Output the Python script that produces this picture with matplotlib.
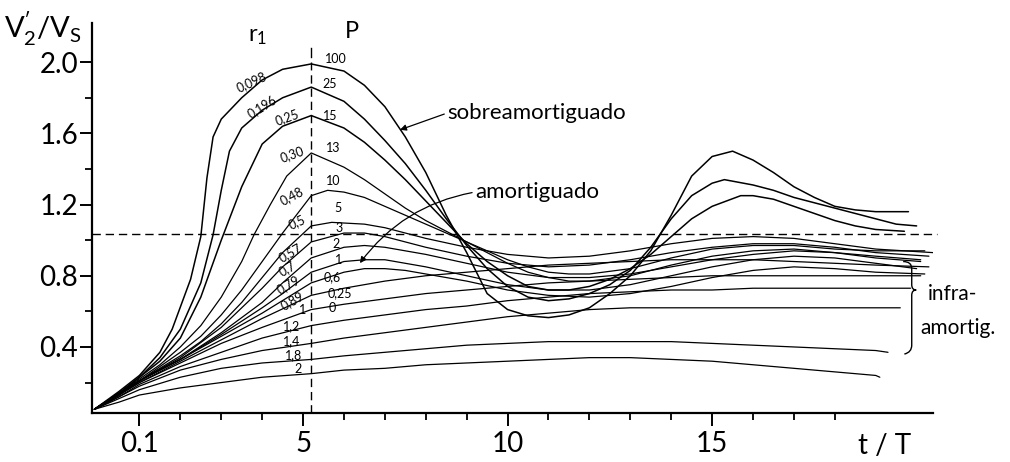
import matplotlib
matplotlib.use("Agg")
import matplotlib.pyplot as plt
from matplotlib.path import Path
from matplotlib.patches import PathPatch

plt.rcParams['font.family'] = ['Lato', 'DejaVu Sans']

# curves: t/T and V2'/Vs, top (P=100) to bottom (r1=2)
c1_t = [-0.1, 0.5, 1, 1.5, 1.8, 2.25, 2.5, 2.65, 2.8, 3, 3.5, 4, 4.5, 5.2, 6, 6.5, 7, 7.5, 8, 8.5, 9, 9.5, 10,
        10.5, 11, 11.5, 12, 12.5, 13, 13.5, 14, 14.5, 15, 15.5, 16, 16.5, 17, 17.5, 18, 18.5, 19, 19.8]
c1_v = [0.05, 0.15, 0.24, 0.37, 0.50, 0.78, 1.02, 1.35, 1.58, 1.68, 1.80, 1.90, 1.96, 1.99, 1.95, 1.87, 1.75, 1.58,
        1.38, 1.14, 0.93, 0.70, 0.61, 0.575, 0.565, 0.58, 0.62, 0.70, 0.80, 0.94, 1.14, 1.36, 1.47, 1.50, 1.45,
        1.38, 1.30, 1.24, 1.19, 1.17, 1.16, 1.16]

c2_t = [-0.1, 0.5, 1, 1.5, 2, 2.5, 2.8, 3, 3.2, 3.5, 4, 4.5, 5.2, 6, 6.5, 7, 7.5, 8, 8.5, 9, 9.5, 10, 10.5, 11,
        11.5, 12, 12.5, 13, 13.5, 14, 14.5, 15, 15.3, 16, 16.5, 17, 17.5, 18, 18.5, 19, 19.5, 20]
c2_v = [0.05, 0.14, 0.23, 0.34, 0.50, 0.76, 1.03, 1.28, 1.50, 1.63, 1.73, 1.80, 1.86, 1.78, 1.68, 1.56, 1.43, 1.28,
        1.12, 0.97, 0.84, 0.74, 0.68, 0.66, 0.67, 0.70, 0.75, 0.83, 0.96, 1.12, 1.25, 1.32, 1.34, 1.31, 1.28, 1.24,
        1.21, 1.18, 1.15, 1.12, 1.09, 1.08]

c3_t = [-0.1, 0.5, 1, 1.5, 2, 2.5, 3, 3.5, 4, 4.5, 5.2, 6, 6.5, 7, 7.5, 8, 8.5, 9, 9.5, 10, 10.5, 11, 11.5, 12,
        12.5, 13, 13.5, 14, 14.5, 15, 15.7, 16, 16.5, 17, 17.5, 18, 18.5, 19, 19.7]
c3_v = [0.05, 0.14, 0.23, 0.32, 0.45, 0.68, 1.00, 1.30, 1.54, 1.64, 1.70, 1.63, 1.55, 1.45, 1.34, 1.22, 1.10, 0.98,
        0.88, 0.80, 0.74, 0.72, 0.72, 0.74, 0.78, 0.84, 0.92, 1.02, 1.12, 1.19, 1.25, 1.25, 1.23, 1.19, 1.15, 1.11,
        1.08, 1.06, 1.05]

c4_t = [-0.1, 0.5, 1, 1.5, 2, 2.5, 3, 3.5, 3.8, 4.2, 4.6, 5.2, 6, 6.5, 7, 7.5, 8, 8.5, 9, 9.5, 10, 10.5, 11, 11.5,
        12, 13, 14, 15, 16, 17, 18, 19, 20.1]
c4_v = [0.05, 0.14, 0.22, 0.30, 0.40, 0.52, 0.68, 0.88, 1.03, 1.20, 1.36, 1.49, 1.41, 1.34, 1.26, 1.18, 1.11, 1.05,
        0.99, 0.93, 0.87, 0.82, 0.79, 0.77, 0.77, 0.80, 0.86, 0.91, 0.94, 0.95, 0.93, 0.91, 0.89]

c5_t = [-0.1, 0.5, 1, 1.5, 2, 2.5, 3, 3.5, 4, 4.5, 5.2, 5.6, 6, 6.5, 7, 7.5, 8, 8.5, 9, 9.5, 10, 10.5, 11, 11.5,
        12, 13, 14, 15, 16, 17, 18, 19, 20.2]
c5_v = [0.05, 0.14, 0.21, 0.29, 0.37, 0.46, 0.58, 0.72, 0.88, 1.04, 1.25, 1.28, 1.27, 1.24, 1.19, 1.14, 1.09, 1.04,
        0.99, 0.94, 0.89, 0.85, 0.82, 0.81, 0.81, 0.84, 0.90, 0.95, 0.97, 0.97, 0.95, 0.94, 0.94]

c6_t = [-0.1, 0.5, 1, 1.5, 2, 2.5, 3, 3.5, 4, 4.5, 5.2, 5.7, 6.5, 7, 7.5, 8, 9, 10, 11, 12, 13, 14, 15, 16, 17,
        18, 19, 20.4]
c6_v = [0.05, 0.14, 0.21, 0.28, 0.35, 0.43, 0.53, 0.65, 0.79, 0.93, 1.08, 1.10, 1.09, 1.07, 1.04, 1.01, 0.96, 0.92,
        0.90, 0.91, 0.94, 0.98, 1.01, 1.02, 1.01, 0.98, 0.95, 0.93]

c7_t = [-0.1, 0.5, 1, 2, 3, 3.5, 4, 4.5, 5.2, 6, 6.5, 7, 7.5, 8, 9, 10, 11, 12, 13, 14, 15, 16, 17, 18, 19, 20.3]
c7_v = [0.05, 0.14, 0.21, 0.34, 0.51, 0.62, 0.73, 0.85, 0.99, 1.04, 1.04, 1.02, 0.99, 0.96, 0.91, 0.87, 0.85, 0.86,
        0.89, 0.93, 0.96, 0.98, 0.98, 0.96, 0.93, 0.91]

c8_t = [-0.1, 0.5, 1, 2, 3, 4, 4.5, 5.2, 6, 6.5, 7, 7.5, 8, 9, 10, 11, 12, 13, 14, 15, 16, 17, 18, 19, 20.1]
c8_v = [0.05, 0.14, 0.21, 0.33, 0.48, 0.65, 0.76, 0.90, 0.96, 0.97, 0.96, 0.94, 0.92, 0.87, 0.82, 0.79, 0.79, 0.81,
        0.85, 0.89, 0.92, 0.94, 0.93, 0.90, 0.88]

c9_t = [-0.1, 0.5, 1, 2, 3, 4, 4.5, 5.2, 6, 6.5, 7, 7.5, 8, 9, 10, 11, 12, 13, 14, 15, 16, 17, 18, 19, 20.0]
c9_v = [0.05, 0.13, 0.21, 0.33, 0.47, 0.62, 0.70, 0.82, 0.88, 0.89, 0.89, 0.87, 0.85, 0.80, 0.75, 0.72, 0.72, 0.75,
        0.80, 0.85, 0.89, 0.91, 0.90, 0.87, 0.84]

c10_t = [-0.1, 0.5, 1, 2, 3, 4, 5.2, 6, 6.5, 7, 7.5, 8, 9, 10, 11, 12, 13, 14, 15, 16, 17, 18, 19, 20.2]
c10_v = [0.05, 0.13, 0.21, 0.33, 0.46, 0.59, 0.76, 0.82, 0.84, 0.84, 0.83, 0.81, 0.77, 0.72, 0.69, 0.68, 0.70, 0.74,
         0.79, 0.83, 0.85, 0.84, 0.82, 0.81]

c11_t = [-0.1, 0.5, 1, 2, 3, 4, 5.2, 6, 7, 8, 9, 10, 11, 12, 13, 14, 15, 16, 17, 18, 19, 20.3]
c11_v = [0.05, 0.13, 0.20, 0.32, 0.44, 0.56, 0.69, 0.73, 0.77, 0.80, 0.82, 0.84, 0.86, 0.87, 0.88, 0.89, 0.89, 0.89,
         0.88, 0.87, 0.86, 0.85]

c12_t = [-0.1, 0.5, 1, 2, 3, 4, 5.2, 6, 7, 8, 9, 10, 11, 12, 13, 14, 15, 16, 17, 18, 19, 20.1]
c12_v = [0.05, 0.13, 0.20, 0.31, 0.42, 0.51, 0.61, 0.64, 0.67, 0.70, 0.72, 0.74, 0.76, 0.77, 0.78, 0.79, 0.80, 0.80,
         0.80, 0.80, 0.80, 0.80]

c13_t = [-0.1, 0.5, 1, 2, 3, 4, 5.2, 6, 7, 8, 9, 10, 11, 12, 13, 14, 15, 16, 17, 18, 19, 19.85]
c13_v = [0.05, 0.12, 0.19, 0.29, 0.37, 0.45, 0.52, 0.55, 0.58, 0.61, 0.63, 0.66, 0.68, 0.70, 0.71, 0.72, 0.72, 0.73,
         0.73, 0.73, 0.73, 0.73]

c14_t = [-0.1, 0.5, 1, 2, 3, 4, 5.2, 6, 7, 8, 9, 10, 11, 12, 13, 14, 15, 16, 17, 18, 19, 19.6]
c14_v = [0.05, 0.12, 0.18, 0.27, 0.33, 0.38, 0.42, 0.45, 0.48, 0.51, 0.54, 0.57, 0.59, 0.61, 0.62, 0.62, 0.62, 0.62,
         0.62, 0.62, 0.62, 0.62]

c15_t = [-0.1, 0.5, 1, 2, 3, 4, 5.2, 6, 7, 8, 9, 10, 11, 12, 13, 14, 15, 16, 17, 18, 19, 19.3]
c15_v = [0.05, 0.11, 0.16, 0.23, 0.28, 0.31, 0.33, 0.35, 0.37, 0.39, 0.41, 0.42, 0.43, 0.43, 0.43, 0.43, 0.42, 0.41,
         0.40, 0.39, 0.38, 0.37]

c16_t = [-0.1, 0.5, 1, 2, 3, 4, 5.2, 6, 7, 8, 9, 10, 11, 12, 13, 14, 15, 16, 17, 18, 19, 19.1]
c16_v = [0.05, 0.09, 0.13, 0.17, 0.20, 0.23, 0.25, 0.27, 0.28, 0.30, 0.31, 0.32, 0.33, 0.34, 0.34, 0.33, 0.32, 0.30,
         0.28, 0.26, 0.24, 0.23]

# labels on the left (r1) and right (P) of the t/T = 5.2 line
r1_labels = ["0,098", "0,196", "0,25", "0,30", "0,48", "0,5", "0,57", "0,7", "0,79", "0,89", "1", "1,2", "1,4", "1,8", "2"]
r1_t = [3.75, 4.0, 4.61, 4.73, 4.73, 4.85, 4.68, 4.61, 4.63, 4.73, 4.98, 4.73, 4.73, 4.76, 4.88]
r1_v = [1.89, 1.75, 1.69, 1.48, 1.25, 1.10, 0.93, 0.84, 0.75, 0.66, 0.605, 0.515, 0.435, 0.355, 0.275]
r1_rot = [25, 32, 20, 20, 28, 25, 30, 30, 30, 30, 0, 0, 0, 0, 0]

p_labels = ["100", "25", "15", "13", "10", "5", "3", "2", "1", "0,6", "0,25", "0"]
p_t = [5.79, 5.66, 5.66, 5.73, 5.73, 5.86, 5.88, 5.81, 5.86, 5.71, 5.90, 5.71]
p_v = [2.02, 1.88, 1.70, 1.52, 1.33, 1.18, 1.07, 0.98, 0.89, 0.79, 0.70, 0.62]

y_ticks = [0.4, 0.8, 1.2, 1.6, 2.0]
y_minor = [0.2, 0.6, 1.0, 1.4, 1.8]
x_ticks = [1, 5, 10, 15]
x_tick_labels = ["0.1", "5", "10", "15"]
x_minor = [2, 3, 4, 6, 7, 8, 9, 11, 12, 13, 14, 16, 17, 18]

t_mark = 5.2
v_ref = 1.034

fig = plt.figure(figsize=(10.1, 4.62), dpi=100)
ax = fig.add_axes([92 / 1010, 49 / 462, 841 / 1010, 390 / 462])

curves = [(c1_t, c1_v), (c2_t, c2_v), (c3_t, c3_v), (c4_t, c4_v), (c5_t, c5_v), (c6_t, c6_v),
          (c7_t, c7_v), (c8_t, c8_v), (c9_t, c9_v), (c10_t, c10_v), (c11_t, c11_v), (c12_t, c12_v),
          (c13_t, c13_v), (c14_t, c14_v), (c15_t, c15_v), (c16_t, c16_v)]
for i, (t, v) in enumerate(curves):
    ax.plot(t, v, color='black', lw=1.1 if i < 3 else 0.9, solid_capstyle='round')

# reference lines
ax.plot([t_mark, t_mark], [2.03, 2.08], color='black', lw=1.0)
ax.plot([t_mark, t_mark], [0.029, 2.0], color='black', lw=1.0, ls=(0, (6, 3.5)))
ax.plot([-0.16, 20.5], [v_ref, v_ref], color='black', lw=1.0, ls=(0, (6, 3.5)), clip_on=False)

for s, t, v, r in zip(r1_labels, r1_t, r1_v, r1_rot):
    ax.text(t, v, s, fontsize=9, rotation=r, ha='center', va='center')
for s, t, v in zip(p_labels, p_t, p_v):
    ax.text(t, v, s, fontsize=9, ha='center', va='center')

ax.text(3.9, 2.145, r"$\mathregular{r_1}$", fontsize=17, ha='center', va='center')
ax.text(6.2, 2.17, "P", fontsize=17, ha='center', va='center')

ax.annotate("sobreamortiguado", xy=(7.37, 1.62), xytext=(8.52, 1.714), fontsize=16, ha='left', va='center',
            arrowprops=dict(arrowstyle='-|>', color='black', lw=0.9, shrinkA=0, shrinkB=0,
                            mutation_scale=9, relpos=(0, 0.5)))
ax.annotate("amortiguado", xy=(6.39, 0.871), xytext=(9.2, 1.27), fontsize=16, ha='left', va='center',
            arrowprops=dict(arrowstyle='-|>', color='black', lw=0.9, shrinkA=0, shrinkB=0,
                            mutation_scale=9, relpos=(0, 0.5), connectionstyle="arc3,rad=0.2"))

# brace on the right
bx = 19.88
verts = [(19.67, 0.88), (bx, 0.88), (bx, 0.84), (bx, 0.75), (bx, 0.72), (19.99, 0.72),
         (bx, 0.72), (bx, 0.69), (bx, 0.41), (bx, 0.37), (19.70, 0.36)]
codes = [Path.MOVETO, Path.CURVE3, Path.CURVE3, Path.LINETO, Path.CURVE3, Path.CURVE3,
         Path.CURVE3, Path.CURVE3, Path.LINETO, Path.CURVE3, Path.CURVE3]
ax.add_patch(PathPatch(Path(verts, codes), fill=False, lw=1.0, color='black', clip_on=False))
ax.text(20.28, 0.70, "infra-", fontsize=15, ha='left', va='center')
ax.text(20.09, 0.505, "amortig.", fontsize=15, ha='left', va='center')

ax.set_xlim(-0.16, 20.4)
ax.set_ylim(0.029, 2.22)
for side in ['top', 'right']:
    ax.spines[side].set_visible(False)
for side in ['left', 'bottom']:
    ax.spines[side].set_linewidth(1.6)

ax.set_yticks(y_ticks)
ax.set_yticklabels([f"{y:.1f}" for y in y_ticks])
ax.set_yticks(y_minor, minor=True)
ax.set_xticks(x_ticks)
ax.set_xticklabels(x_tick_labels)
ax.set_xticks(x_minor, minor=True)
ax.tick_params(axis='both', which='major', direction='out', length=9, width=1.4, labelsize=20)
ax.tick_params(axis='y', which='major', pad=1)
ax.tick_params(axis='x', which='major', pad=4)
ax.tick_params(axis='both', which='minor', direction='out', length=5, width=1.3)

fig.text(885 / 1010, 1 - 446 / 462, "t / T", fontsize=20, ha='center', va='center')
fig.text(43 / 1010, 1 - 29 / 462, r"$\mathregular{V_2^{\prime} / V_S}$", fontsize=21, ha='center', va='center')

fig.savefig("out.png", dpi=100, facecolor='white')
